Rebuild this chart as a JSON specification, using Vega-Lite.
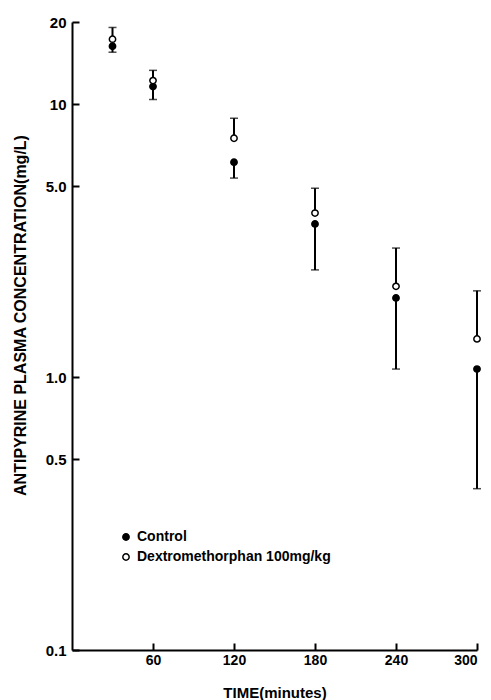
{
  "$schema": "https://vega.github.io/schema/vega-lite/v6.json",
  "width": 405,
  "height": 628,
  "autosize": {"type": "none"},
  "padding": {"left": 72, "top": 22, "right": 14, "bottom": 50},
  "background": "white",
  "config": {
    "view": {"stroke": null},
    "font": "Liberation Sans",
    "axis": {
      "domainColor": "black",
      "domainWidth": 2,
      "tickColor": "black",
      "tickWidth": 2,
      "grid": false,
      "labelColor": "black",
      "titleColor": "black",
      "labelFont": "Liberation Sans",
      "titleFont": "Liberation Sans",
      "labelFontWeight": "bold",
      "titleFontWeight": "bold"
    }
  },
  "data": {
    "values": [
      {"time": 30, "group": "Control", "mean": 16.3, "end": 15.5},
      {"time": 60, "group": "Control", "mean": 11.6, "end": 10.4},
      {"time": 120, "group": "Control", "mean": 6.13, "end": 5.36},
      {"time": 180, "group": "Control", "mean": 3.64, "end": 2.47},
      {"time": 240, "group": "Control", "mean": 1.95, "end": 1.07},
      {"time": 300, "group": "Control", "mean": 1.07, "end": 0.39},
      {"time": 30, "group": "Dextromethorphan 100mg/kg", "mean": 17.3, "end": 19.1},
      {"time": 60, "group": "Dextromethorphan 100mg/kg", "mean": 12.2, "end": 13.3},
      {"time": 120, "group": "Dextromethorphan 100mg/kg", "mean": 7.5, "end": 8.88},
      {"time": 180, "group": "Dextromethorphan 100mg/kg", "mean": 3.99, "end": 4.92},
      {"time": 240, "group": "Dextromethorphan 100mg/kg", "mean": 2.15, "end": 2.97},
      {"time": 300, "group": "Dextromethorphan 100mg/kg", "mean": 1.38, "end": 2.07}
    ]
  },
  "layer": [
    {
      "mark": {"type": "rule", "strokeWidth": 2, "color": "black"},
      "encoding": {
        "x": {
          "field": "time",
          "type": "quantitative",
          "scale": {"domain": [0, 300], "nice": false, "zero": false},
          "axis": {
            "values": [60, 120, 180, 240, 300],
            "tickSize": -7,
            "labelPadding": 10,
            "labelFontSize": 14,
            "title": "TIME(minutes)",
            "titleFontSize": 15,
            "titleY": 47,
            "titleBaseline": "alphabetic"
          }
        },
        "y": {
          "field": "mean",
          "type": "quantitative",
          "scale": {"type": "log", "domain": [0.1, 20], "nice": false},
          "axis": {
            "values": [0.1, 0.5, 1, 5, 10, 20],
            "labelExpr": "datum.value < 0.2 ? '0.1' : datum.value < 0.7 ? '0.5' : datum.value < 2 ? '1.0' : datum.value < 7 ? '5.0' : datum.value < 15 ? '10' : '20'",
            "tickSize": -7,
            "labelPadding": 13,
            "labelFontSize": 15,
            "title": "ANTIPYRINE PLASMA CONCENTRATION(mg/L)",
            "titleFontSize": 16,
            "titleX": -52,
            "titleY": 293,
            "titleAlign": "center",
            "titleBaseline": "middle"
          }
        },
        "y2": {"field": "end"}
      }
    },
    {
      "mark": {"type": "tick", "orient": "horizontal", "size": 8, "thickness": 1.5, "color": "black"},
      "encoding": {
        "x": {"field": "time", "type": "quantitative"},
        "y": {"field": "end", "type": "quantitative"}
      }
    },
    {
      "mark": {"type": "point", "shape": "circle", "filled": true, "size": 40, "stroke": "black", "strokeWidth": 1.5, "opacity": 1},
      "encoding": {
        "x": {"field": "time", "type": "quantitative"},
        "y": {"field": "mean", "type": "quantitative"},
        "fill": {
          "field": "group",
          "type": "nominal",
          "scale": {"domain": ["Control", "Dextromethorphan 100mg/kg"], "range": ["black", "white"]},
          "legend": {
            "title": null,
            "orient": "none",
            "legendX": 47,
            "legendY": 508,
            "labelFont": "Liberation Sans",
            "labelFontSize": 14,
            "labelFontWeight": "bold",
            "labelColor": "black",
            "labelLimit": 0,
            "symbolType": "circle",
            "symbolSize": 40,
            "symbolStrokeColor": "black",
            "symbolStrokeWidth": 1.5,
            "labelOffset": 4,
            "rowPadding": 6,
            "padding": 0
          }
        }
      }
    }
  ]
}
